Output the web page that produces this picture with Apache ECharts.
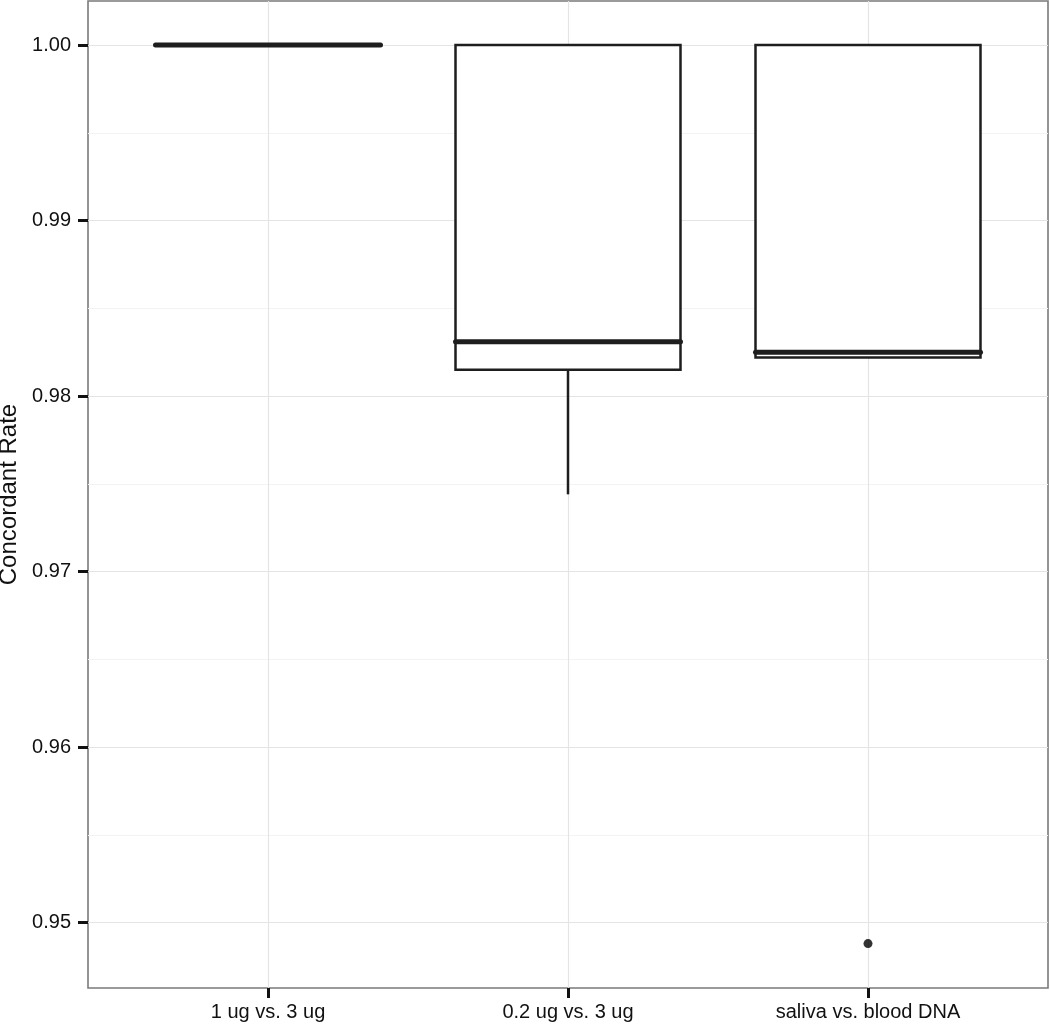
<!DOCTYPE html>
<html>
<head>
<meta charset="utf-8">
<script src="https://cdn.jsdelivr.net/npm/echarts@6/dist/echarts.min.js"></script>
<style>
html,body{margin:0;padding:0;background:#fff;}
#chart{width:1050px;height:1026px;}
</style>
</head>
<body>
<div id="chart"></div>
<script>
// ---- data ----
var categories = ['1 ug vs. 3 ug', '0.2 ug vs. 3 ug', 'saliva vs. blood DNA'];
var lowerWhisker = [1.0, 0.9744, 0.9822];
var q1Values = [1.0, 0.9815, 0.9822];
var medianValues = [1.0, 0.9831, 0.9825];
var q3Values = [1.0, 1.0, 1.0];
var upperWhisker = [1.0, 1.0, 1.0];
var outlierCategory = [3];
var outlierValues = [0.9488];
var yMajorTicks = [0.95, 0.96, 0.97, 0.98, 0.99, 1.00];
var yMinorTicks = [0.955, 0.965, 0.975, 0.985, 0.995];
var yLabels = ['0.95', '0.96', '0.97', '0.98', '0.99', '1.00'];

var boxData = categories.map(function (c, i) {
  return [i + 1, lowerWhisker[i], q1Values[i], medianValues[i], q3Values[i], upperWhisker[i]];
});
var outlierData = outlierValues.map(function (v, i) { return [outlierCategory[i], v]; });

var FONT = '"Liberation Sans", Arial, sans-serif';
var chart = echarts.init(document.getElementById('chart'), null, {renderer: 'canvas'});

function renderBox(params, api) {
  var x = api.value(0);
  var lo = api.coord([x, api.value(1)]);
  var q1 = api.coord([x, api.value(2)]);
  var med = api.coord([x, api.value(3)]);
  var q3 = api.coord([x, api.value(4)]);
  var hi = api.coord([x, api.value(5)]);
  var halfW = api.size([0.75, 0])[0] / 2;
  var cx = q1[0];
  var stroke = {stroke: '#1e1e1e', lineWidth: 2.5, fill: null};
  var children = [];
  if (hi[1] < q3[1]) children.push({type: 'line', shape: {x1: cx, y1: q3[1], x2: cx, y2: hi[1]}, style: stroke});
  if (lo[1] > q1[1]) children.push({type: 'line', shape: {x1: cx, y1: q1[1], x2: cx, y2: lo[1]}, style: stroke});
  children.push({type: 'rect', shape: {x: cx - halfW, y: q3[1], width: halfW * 2, height: q1[1] - q3[1]},
    style: {fill: '#fff', stroke: '#1e1e1e', lineWidth: 2.5}});
  children.push({type: 'line', shape: {x1: cx - halfW, y1: med[1], x2: cx + halfW, y2: med[1]},
    style: {stroke: '#1e1e1e', lineWidth: 5, lineCap: 'round'}});
  return {type: 'group', children: children};
}

var option = {
  animation: false,
  backgroundColor: '#fff',
  grid: {left: 88, right: 2, top: 1, bottom: 38, show: true, borderColor: '#7a7a7a', borderWidth: 1.6,
    backgroundColor: 'transparent', containLabel: false, outerBoundsMode: 'none'},
  xAxis: {
    type: 'value', min: 0.4, max: 3.6,
    axisLine: {show: false},
    axisTick: {show: true, customValues: [1, 2, 3], length: 10, lineStyle: {color: '#111', width: 3}},
    axisLabel: {customValues: [1, 2, 3], margin: 14, fontFamily: FONT, fontSize: 20, color: '#111',
      formatter: function (v) { return categories[Math.round(v) - 1]; }},
    splitLine: {show: true, lineStyle: {color: '#e4e4e4', width: 1.2}}
  },
  yAxis: [{
    type: 'value', min: 0.94627, max: 1.00251,
    name: 'Concordant Rate', nameLocation: 'middle', nameGap: 63,
    nameTextStyle: {fontFamily: FONT, fontSize: 24, color: '#111'},
    axisLine: {show: false},
    axisTick: {show: true, customValues: yMajorTicks, length: 10, lineStyle: {color: '#111', width: 3}},
    axisLabel: {customValues: yMajorTicks, margin: 17, fontFamily: FONT, fontSize: 20, color: '#111',
      formatter: function (v) { var i = yMajorTicks.findIndex(function (t) { return Math.abs(t - v) < 1e-6; }); return i >= 0 ? yLabels[i] : ''; }},
    splitLine: {show: true, lineStyle: {color: '#e4e4e4', width: 1.2}}
  }, {
    type: 'value', min: 0.94627, max: 1.00251, position: 'left',
    axisLine: {show: false}, axisTick: {show: false, customValues: yMinorTicks},
    axisLabel: {show: false, customValues: yMinorTicks},
    splitLine: {show: true, lineStyle: {color: '#f3f3f3', width: 1.2}}
  }],
  series: [{
    type: 'custom', renderItem: renderBox, data: boxData, z: 5,
    encode: {x: 0, y: [1, 2, 3, 4, 5]}, clip: false
  }, {
    type: 'scatter', data: outlierData, symbolSize: 9, z: 6,
    itemStyle: {color: '#000'}
  }]
};
chart.setOption(option);
</script>
</body>
</html>
